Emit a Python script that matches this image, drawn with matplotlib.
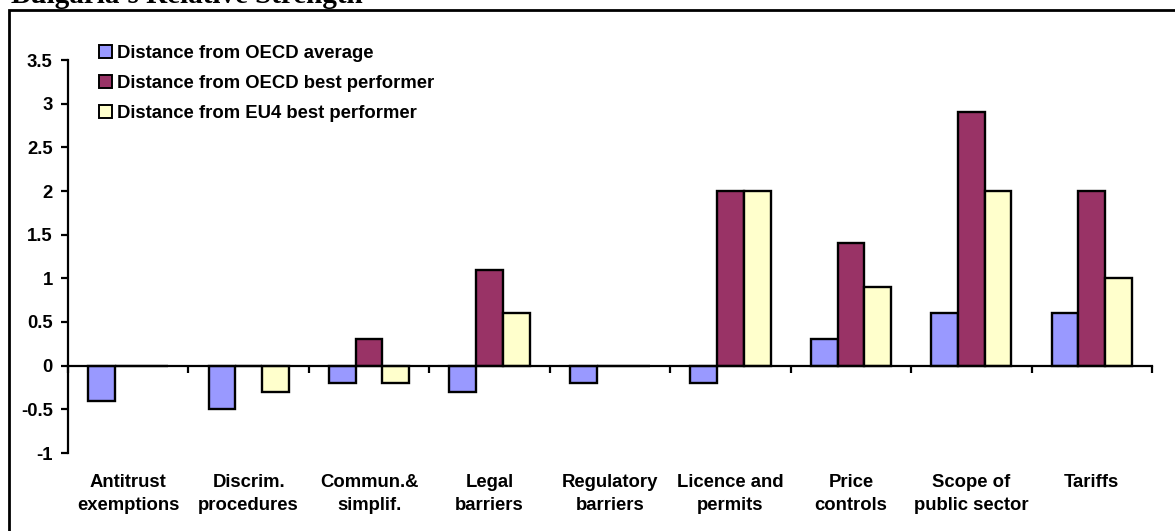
import numpy as np
import matplotlib.pyplot as plt
from matplotlib.patches import Patch, Rectangle
from matplotlib.transforms import blended_transform_factory, offset_copy

# Bulgaria: distance from benchmarks by regulatory area
categories = ['Antitrust\nexemptions', 'Discrim.\nprocedures', 'Commun.&\nsimplif.',
              'Legal\nbarriers', 'Regulatory\nbarriers', 'Licence and\npermits',
              'Price\ncontrols', 'Scope of\npublic sector', 'Tariffs']
oecd_avg = [-0.4, -0.5, -0.2, -0.3, -0.2, -0.2, 0.3, 0.6, 0.6]
oecd_best = [0, 0, 0.3, 1.1, 0, 2.0, 1.4, 2.9, 2.0]
eu4_best = [0, -0.3, -0.2, 0.6, 0, 2.0, 0.9, 2.0, 1.0]
series_names = ['Distance from OECD average', 'Distance from OECD best performer',
                'Distance from EU4 best performer']
colors = ['#9999FF', '#993366', '#FFFFCC']

plt.rcParams['font.family'] = ['Liberation Sans', 'DejaVu Sans']
plt.rcParams['font.weight'] = 'bold'
fs = 13.3

W, H = 1175, 531
fig = plt.figure(figsize=(W / 100, H / 100), dpi=100)
ax = fig.add_axes([68 / W, 1 - 453 / H, (1152 - 68) / W, (453 - 60) / H])

x = np.arange(len(categories))
bw = 1 / 4.5
for i, vals in enumerate([oecd_avg, oecd_best, eu4_best]):
    ax.bar(x + (i - 1) * bw, vals, bw, color=colors[i], edgecolor='black',
           linewidth=1.7, zorder=3)

ax.set_xlim(-0.5, len(categories) - 0.5)
ax.set_ylim(-1, 3.5)
ax.set_yticks(np.arange(-1, 3.51, 0.5))
ax.set_yticklabels([f'{v:g}' for v in np.arange(-1, 3.51, 0.5)], fontsize=fs)
ax.set_xticks(np.arange(-0.5, len(categories), 1))
ax.set_xticklabels([])
ax.tick_params(axis='y', direction='out', length=5, width=1.6, pad=6)
ax.tick_params(axis='x', direction='out', length=5, width=1.6)

for s in ['top', 'right']:
    ax.spines[s].set_visible(False)
ax.spines['bottom'].set_position(('data', 0))
ax.spines['bottom'].set_zorder(4)
for s in ['left', 'bottom']:
    ax.spines[s].set_linewidth(1.6)

# category names under the plot area
trans = offset_copy(blended_transform_factory(ax.transData, ax.transAxes),
                    fig=fig, y=-21, units='dots')
for xi, name in zip(x, categories):
    ax.text(xi, 0, name, transform=trans, ha='center', va='top',
            fontsize=fs, linespacing=1.5)

handles = [Patch(facecolor=c, edgecolor='black', linewidth=1.4) for c in colors]
fig.legend(handles, series_names, loc='upper left',
           bbox_to_anchor=(99 / W, 1 - 45 / H), frameon=False, fontsize=fs,
           handlelength=0.7, handleheight=0.7, handletextpad=0.3,
           labelspacing=0.7, borderpad=0, borderaxespad=0)

# outer frame and cut title
fig.patches.append(Rectangle((9 / W, -0.1), 1.2, 1 - 10 / H + 0.1,
                             transform=fig.transFigure, fill=False,
                             edgecolor='black', linewidth=2))
fig.text(11 / W, 1 - 3 / H, "Bulgaria's Relative Strength", ha='left',
         va='baseline', fontsize=21, family='Liberation Serif', weight='bold')

fig.savefig('out.png', dpi=100)
